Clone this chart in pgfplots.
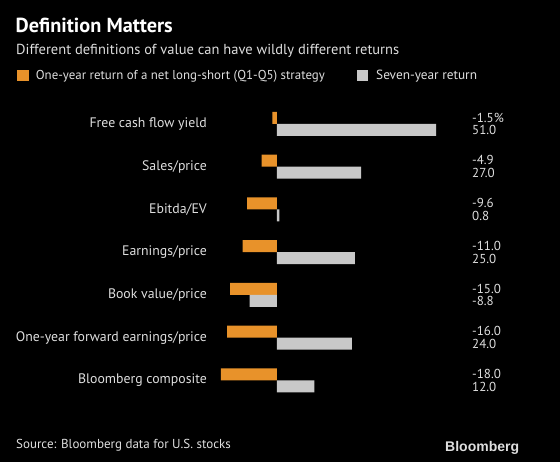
\documentclass[border=0pt]{standalone}
\usepackage{fontspec}
\setmainfont{PT Sans}
\newfontfamily\logofont{Liberation Sans}
\usepackage{pgfplots}
\pgfplotsset{compat=1.18}
\definecolor{barorange}{RGB}{232,146,42}
\definecolor{bargray}{RGB}{200,200,200}
\definecolor{txt}{RGB}{222,222,222}
\begin{document}
\begin{tikzpicture}[x=1pt,y=1pt]
\fill[black] (0,0) rectangle (560,462);
\node[anchor=base west, inner sep=0pt, text=white, font=\fontsize{20.3}{22}\selectfont\bfseries] at (15.5,429) {Definition Matters};
\node[anchor=base west, inner sep=0pt, text=txt, font=\fontsize{14.5}{16}\selectfont] at (16,407) {Different definitions of value can have wildly different returns};
\fill[barorange] (17,381.3) rectangle (28.5,392);
\node[anchor=base west, inner sep=0pt, text=txt, font=\fontsize{12.9}{14}\selectfont] at (35.7,382) {One-year return of a net long-short (Q1-Q5) strategy};
\fill[bargray] (357,381.3) rectangle (368,392);
\node[anchor=base west, inner sep=0pt, text=txt, font=\fontsize{13.3}{14}\selectfont] at (376,382) {Seven-year return};
\node[anchor=base west, inner sep=0pt, text=txt, font=\fontsize{13}{15}\selectfont] at (16,13) {Source: Bloomberg data for U.S. stocks};
\node[anchor=base west, inner sep=0pt, text=txt, font=\logofont\bfseries\fontsize{14}{16}\selectfont] at (445,10.3) {Bloomberg};
\begin{axis}[at={(214.6pt,60.125pt)}, anchor=south west, scale only axis,
  width=234pt, height=299.25pt,
  xmin=-20, xmax=55, ymin=-0.5, ymax=6.5,
  axis line style={draw=none}, xtick=\empty,
  ytick={0,...,6},
  yticklabels={Bloomberg composite, One-year forward earnings/price, Book value/price, Earnings/price, Ebitda/EV, Sales/price, Free cash flow yield},
  major tick length=0pt,
  yticklabel style={text=txt, font=\fontsize{13.8}{15}\selectfont, inner sep=0pt, xshift=-7.6pt},
  xbar, bar width=12pt, clip=false]
\addplot[fill=barorange, draw=none, bar shift=6pt] coordinates {(-18,0) (-16,1) (-15,2) (-11,3) (-9.6,4) (-4.9,5) (-1.5,6)};
\addplot[fill=bargray, draw=none, bar shift=-6pt] coordinates {(12,0) (24,1) (-8.8,2) (25,3) (0.8,4) (27,5) (51,6)};
\tikzset{val/.style={anchor=west, inner sep=0pt, text=txt, font=\fontsize{13}{15}\selectfont}}
\node[val, yshift=6.3pt] at (axis cs:62.5,6) {-1.5\%};
\node[val, yshift=-6.3pt] at (axis cs:62.5,6) {51.0};
\node[val, yshift=6.3pt] at (axis cs:62.5,5) {-4.9};
\node[val, yshift=-6.3pt] at (axis cs:62.5,5) {27.0};
\node[val, yshift=6.3pt] at (axis cs:62.5,4) {-9.6};
\node[val, yshift=-6.3pt] at (axis cs:62.5,4) {0.8};
\node[val, yshift=6.3pt] at (axis cs:62.5,3) {-11.0};
\node[val, yshift=-6.3pt] at (axis cs:62.5,3) {25.0};
\node[val, yshift=6.3pt] at (axis cs:62.5,2) {-15.0};
\node[val, yshift=-6.3pt] at (axis cs:62.5,2) {-8.8};
\node[val, yshift=6.3pt] at (axis cs:62.5,1) {-16.0};
\node[val, yshift=-6.3pt] at (axis cs:62.5,1) {24.0};
\node[val, yshift=6.3pt] at (axis cs:62.5,0) {-18.0};
\node[val, yshift=-6.3pt] at (axis cs:62.5,0) {12.0};
\end{axis}
\end{tikzpicture}
\end{document}
